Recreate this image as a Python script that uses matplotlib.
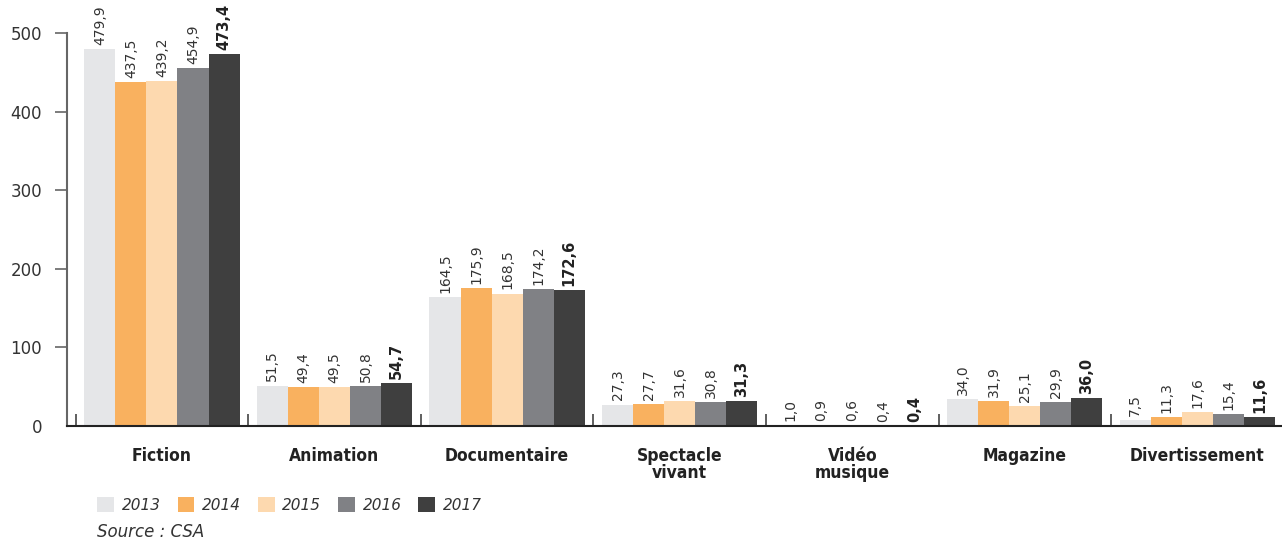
import numpy as np
import matplotlib
matplotlib.use("Agg")
import matplotlib.pyplot as plt
from matplotlib.patches import Patch

# ============================
#  DONNÉES
# ============================
categories = ["Fiction", "Animation", "Documentaire", "Spectacle\nvivant",
              "Vidéo\nmusique", "Magazine", "Divertissement"]
annees = ["2013", "2014", "2015", "2016", "2017"]

v2013 = [479.9, 51.5, 164.5, 27.3, 1.0, 34.0, 7.5]
v2014 = [437.5, 49.4, 175.9, 27.7, 0.9, 31.9, 11.3]
v2015 = [439.2, 49.5, 168.5, 31.6, 0.6, 25.1, 17.6]
v2016 = [454.9, 50.8, 174.2, 30.8, 0.4, 29.9, 15.4]
v2017 = [473.4, 54.7, 172.6, 31.3, 0.4, 36.0, 11.6]
series = [v2013, v2014, v2015, v2016, v2017]

couleurs = ["#E5E6E8", "#F9B15F", "#FDD9AF", "#808185", "#3F3F3F"]
TEXTE = "#333333"

# ============================
#  FIGURE
# ============================
fig = plt.figure(figsize=(12.82, 5.41), dpi=100)
ax = fig.add_axes([0.0523, 0.2126, 0.949, 0.7874])

x = np.arange(len(categories))
larg = 0.18
for k, (vals, col) in enumerate(zip(series, couleurs)):
    pos = x + (k - 2) * larg
    ax.bar(pos, vals, width=larg, color=col, linewidth=0)
    for p, v in zip(pos, vals):
        lab = f"{v:.1f}".replace(".", ",")
        if k == 4:
            ax.annotate(lab, (p, v), xytext=(0, 3), textcoords="offset points",
                        rotation=90, ha="center", va="bottom",
                        fontsize=10.5, fontweight="bold", color="#222222")
        else:
            ax.annotate(lab, (p, v), xytext=(0, 3), textcoords="offset points",
                        rotation=90, ha="center", va="bottom",
                        fontsize=10, color=TEXTE)

ax.set_xlim(-0.55, 6.5)
ax.set_ylim(0, 542)

# axes
for s in ["top", "right"]:
    ax.spines[s].set_visible(False)
ax.spines["left"].set_bounds(0, 500)
ax.spines["left"].set_color("#666666")
ax.spines["left"].set_linewidth(1.5)
ax.spines["bottom"].set_color("#222222")
ax.spines["bottom"].set_linewidth(1.5)

ax.set_yticks([0, 100, 200, 300, 400, 500])
ax.tick_params(axis="y", length=9, width=1.2, color="#666666",
               labelsize=12, labelcolor=TEXTE, pad=9)
ax.yaxis.get_major_ticks()[0].tick1line.set_visible(False)

ax.set_xticks(x)
ax.set_xticklabels(categories, fontsize=12.5, fontweight="bold",
                   fontstretch="condensed", color="#222222", linespacing=0.95)
ax.tick_params(axis="x", length=0, pad=15)
ax.set_xticks(np.arange(len(categories)) - 0.5, minor=True)
ax.tick_params(axis="x", which="minor", direction="in", length=9,
               width=1.2, color="#444444")

# legende
handles = [Patch(facecolor=c, edgecolor="none") for c in couleurs]
leg = fig.legend(handles, annees, loc="center left",
                 bbox_to_anchor=(0.076, 1 - 505 / 541), ncol=5, frameon=False,
                 prop={"size": 11, "style": "italic"}, handlelength=1.1,
                 handleheight=1.1, handletextpad=0.5, columnspacing=1.1,
                 borderaxespad=0, borderpad=0)
for t in leg.get_texts():
    t.set_color(TEXTE)

fig.text(97 / 1282, 1 - 532 / 541, "Source : CSA", fontsize=12,
         style="italic", color=TEXTE, va="center", ha="left")

fig.savefig("out.png", dpi=100)
